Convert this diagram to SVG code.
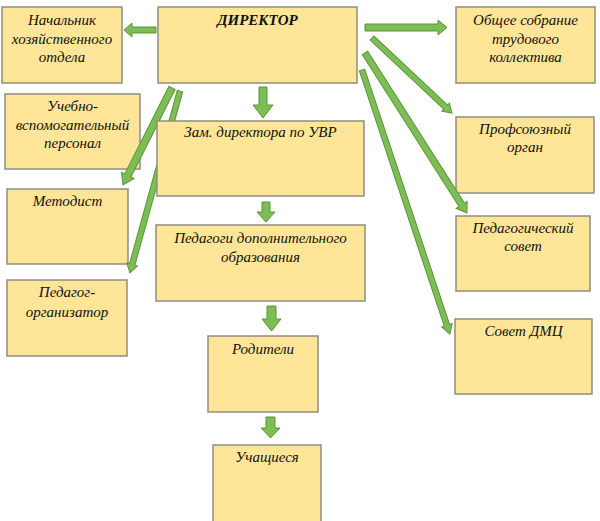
<svg xmlns="http://www.w3.org/2000/svg" width="600" height="521" viewBox="0 0 600 521">
<style>
.box{fill:#FFE598;stroke:#8E8E80;stroke-width:1.5}
.t{font-family:"Liberation Serif","Times New Roman",serif;font-style:italic;font-size:15px;fill:#111;text-anchor:middle}
.b{font-weight:bold}
.ar{fill:#7DBD55;stroke:#5B9637;stroke-width:1;stroke-linejoin:miter}
</style>
<rect width="600" height="521" fill="#FFFFFF"/>
<g id="nach"><rect class="box" x="2" y="7" width="120" height="76"/><text class="t" x="62" y="25">Начальник</text><text class="t" x="62" y="43.5">хозяйственного</text><text class="t" x="62" y="62">отдела</text></g>
<g id="director"><rect class="box" x="158" y="7" width="199" height="76"/><text class="t b" x="257.5" y="25">ДИРЕКТОР</text></g>
<g id="obshee"><rect class="box" x="456" y="7" width="139" height="76"/><text class="t" x="525.5" y="25">Общее собрание</text><text class="t" x="525.5" y="43.5">трудового</text><text class="t" x="525.5" y="62">коллектива</text></g>
<g id="prof"><rect class="box" x="456" y="117" width="138" height="76"/><text class="t" x="525" y="134">Профсоюзный</text><text class="t" x="525" y="152">орган</text></g>
<g id="ucheb"><rect class="box" x="5" y="94" width="135" height="75"/><text class="t" x="72.5" y="111">Учебно-</text><text class="t" x="72.5" y="130">вспомогательный</text><text class="t" x="72.5" y="148">персонал</text></g>
<g id="metod"><rect class="box" x="7" y="189" width="121" height="75"/><text class="t" x="67.5" y="206">Методист</text></g>
<g id="pedag"><rect class="box" x="156" y="225" width="209" height="76"/><text class="t" x="260.5" y="243">Педагоги дополнительного</text><text class="t" x="260.5" y="262">образования</text></g>
<g id="pedorg"><rect class="box" x="7" y="280" width="120" height="76"/><text class="t" x="67" y="297">Педагог-</text><text class="t" x="67" y="317">организатор</text></g>
<g id="pedsov"><rect class="box" x="456" y="216" width="134" height="75"/><text class="t" x="523" y="233">Педагогический</text><text class="t" x="523" y="251">совет</text></g>
<g id="sovet"><rect class="box" x="455" y="319" width="137" height="75"/><text class="t" x="523.5" y="336">Совет ДМЦ</text></g>
<g id="rod"><rect class="box" x="208" y="336" width="110" height="76"/><text class="t" x="263" y="354">Родители</text></g>
<g id="uch"><rect class="box" x="213" y="445" width="108" height="82"/><text class="t" x="267" y="462">Учащиеся</text></g>
<g id="connectors">
<polygon class="ar" points="156,27 132,27 132,23 124,30 132,37 132,33 156,33"/>
<polygon class="ar" points="365,24 438,24 438,20 447,27.5 438,35 438,31 365,31"/>
<polygon class="ar" points="259,87 267,87 267,105 273,105 263,118 253,105 259,105"/>
<polygon class="ar" points="262,202 270,202 270,212 275,212 266,222 257,212 262,212"/>
<polygon class="ar" points="267,306 276,306 276,319 281,319 271.5,331 262,319 267,319"/>
<polygon class="ar" points="266,417 275,417 275,428 280,428 270.5,438 261,428 266,428"/>
<g transform="translate(172,88) rotate(116.8)"><polygon class="ar" points="0,-3.5 98,-3.5 98,-7 108.7,0 98,7 98,3.5 0,3.5"/></g>
<g transform="translate(180,91) rotate(105.4)"><polygon class="ar" points="0,-2.8 180,-2.8 180,-5.5 188.7,0 180,5.5 180,2.8 0,2.8"/></g>
<g transform="translate(372,38) rotate(43.2)"><polygon class="ar" points="0,-2.8 101,-2.8 101,-5.5 109.7,0 101,5.5 101,2.8 0,2.8"/></g>
<g transform="translate(365,53) rotate(57.5)"><polygon class="ar" points="0,-3.2 180,-3.2 180,-6.5 189.7,0 180,6.5 180,3.2 0,3.2"/></g>
<g transform="translate(362,70) rotate(71.6)"><polygon class="ar" points="0,-2.8 269,-2.8 269,-5.5 278.3,0 269,5.5 269,2.8 0,2.8"/></g>
</g>
<g id="zam"><rect class="box" x="157" y="121" width="207" height="75"/><text class="t" x="260.5" y="137">Зам. директора по УВР</text></g>
</svg>
